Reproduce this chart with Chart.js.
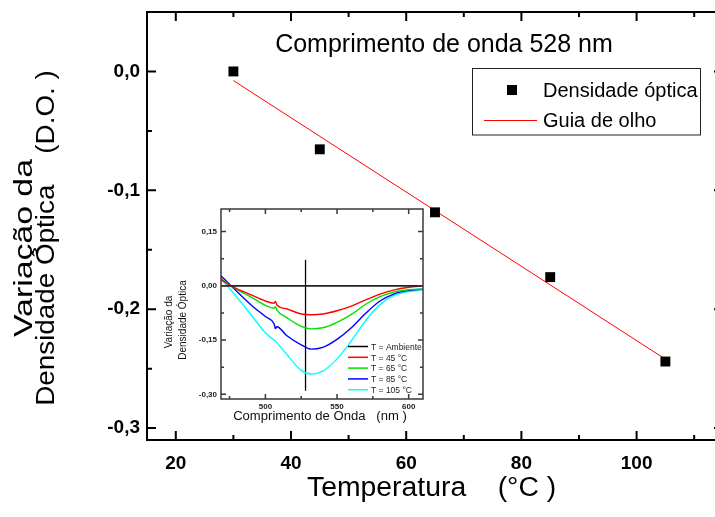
<!DOCTYPE html>
<html>
<head>
<meta charset="utf-8">
<script src="https://cdn.jsdelivr.net/npm/chart.js@4.4.0/dist/chart.umd.min.js"></script>
<style>
html, body { margin: 0; padding: 0; background: #fff; width: 715px; height: 517px; overflow: hidden; }
#wrap { position: relative; width: 715px; height: 517px; overflow: hidden; }
#mainChart { position: absolute; left: 0; top: 0; }
#insetChart { position: absolute; left: 150px; top: 200px; }
</style>
</head>
<body>
<div id="wrap">
<canvas id="mainChart" width="730" height="517"></canvas>
<canvas id="insetChart" width="285" height="235"></canvas>
</div>
<script>
const FONT = '"Liberation Sans", Arial, Helvetica, sans-serif';

// variacao da densidade optica a 528 nm em funcao da temperatura
const temperatures = [30, 45, 65, 85, 105];
const opticalDensity = [0.0, -0.0655, -0.1185, -0.173, -0.244];
const guideTemps = [30, 105];
const guideDensity = [-0.0077, -0.242];
const tempTicks = [20, 40, 60, 80, 100];
const tempMinor = [30, 50, 70, 90, 110];
const densityTicks = [0, -0.1, -0.2, -0.3];
const densityMinor = [-0.05, -0.15, -0.25];

// espectros do detalhe
const wavelengths = [469, 476, 490, 500, 506, 507, 508, 515, 525, 532, 540, 550, 560, 570, 580, 590, 600, 610];
const spec45 = [0.017, 0.0, -0.025, -0.042, -0.048, -0.043, -0.053, -0.064, -0.078, -0.080, -0.078, -0.069, -0.056, -0.039, -0.023, -0.011, -0.004, 0.0];
const spec65 = [0.021, 0.0, -0.031, -0.054, -0.062, -0.058, -0.067, -0.088, -0.112, -0.119, -0.116, -0.101, -0.079, -0.051, -0.030, -0.017, -0.011, -0.009];
const spec85 = [0.028, 0.0, -0.053, -0.085, -0.105, -0.118, -0.113, -0.138, -0.163, -0.175, -0.170, -0.148, -0.116, -0.076, -0.042, -0.022, -0.013, -0.009];
const spec105 = [0.018, -0.012, -0.080, -0.130, -0.150, -0.152, -0.157, -0.190, -0.234, -0.244, -0.236, -0.202, -0.152, -0.096, -0.052, -0.026, -0.016, -0.011];
const ambientWaves = [469, 610];
const ambientValues = [0, 0];
const markerWave = 528;
const markerRange = [-0.29, 0.072];
const insetSeriesNames = ['T = Ambiente', 'T = 45 °C', 'T = 65 °C', 'T = 85 °C', 'T = 105 °C'];
const insetColors = ['#000000', '#ff0000', '#00e000', '#0000ff', '#00ffff'];
const waveTicks = [500, 550, 600];
const waveMinor = [475, 525, 575];
const insetTicks = [0.15, 0, -0.15, -0.3];
const insetMinor = [0.075, -0.075, -0.225];

function pairs(xs, ys) {
    return xs.map((x, i) => ({ x: x, y: ys[i] }));
}

function comma(v, digits) {
    return (v < -1e-9 ? '-' : '') + Math.abs(v).toFixed(digits).replace('.', ',');
}

// sem folga automatica: a area do grafico fica exatamente onde o layout manda
function noPadding(s) {
    s.paddingTop = 0; s.paddingBottom = 0; s.paddingLeft = 0; s.paddingRight = 0;
}

function drawText(ctx, text, x, y, o) {
    ctx.save();
    ctx.translate(x, y);
    if (o.rotate) ctx.rotate(o.rotate);
    if (o.sx) ctx.scale(o.sx, 1);
    ctx.font = (o.weight || '') + ' ' + o.size + 'px ' + FONT;
    ctx.fillStyle = o.color || '#000';
    ctx.textAlign = o.align || 'center';
    ctx.textBaseline = o.baseline || 'alphabetic';
    ctx.fillText(text, 0, 0);
    ctx.restore();
}

function innerTicks(chart, axis, majors, minors, bigLen, smallLen) {
    const ctx = chart.ctx, a = chart.chartArea, s = chart.scales[axis];
    ctx.beginPath();
    const mark = (v, len) => {
        const p = s.getPixelForValue(v);
        if (axis === 'x') {
            ctx.moveTo(p, a.bottom); ctx.lineTo(p, a.bottom - len);
            ctx.moveTo(p, a.top); ctx.lineTo(p, a.top + len);
        } else {
            ctx.moveTo(a.left, p); ctx.lineTo(a.left + len, p);
            ctx.moveTo(a.right, p); ctx.lineTo(a.right - len, p);
        }
    };
    majors.forEach(v => mark(v, bigLen));
    minors.forEach(v => mark(v, smallLen));
    ctx.stroke();
}

const mainDecor = {
    id: 'mainDecor',
    afterDraw(chart) {
        const ctx = chart.ctx, a = chart.chartArea;
        ctx.save();
        ctx.strokeStyle = '#000';
        ctx.lineWidth = 2;
        ctx.strokeRect(a.left, a.top, a.right - a.left, a.bottom - a.top);
        innerTicks(chart, 'x', tempTicks, tempMinor, 9, 5);
        innerTicks(chart, 'y', densityTicks, densityMinor, 9, 5);

        drawText(ctx, 'Comprimento de onda 528 nm', 444, 52, { size: 25 });

        // legenda
        ctx.lineWidth = 1;
        ctx.strokeStyle = '#222';
        ctx.strokeRect(472.5, 68.5, 228, 66.5);
        ctx.fillStyle = '#000';
        ctx.fillRect(507, 85, 10, 10);
        ctx.strokeStyle = '#ff0000';
        ctx.beginPath();
        ctx.moveTo(484, 120.5);
        ctx.lineTo(537, 120.5);
        ctx.stroke();
        drawText(ctx, 'Densidade óptica', 543, 97, { size: 20, align: 'left' });
        drawText(ctx, 'Guia de olho', 543, 127, { size: 20, align: 'left' });

        // titulos dos eixos
        drawText(ctx, 'Temperatura    (°C )', 307, 496, { size: 27, align: 'left', sx: 1.05 });
        drawText(ctx, 'Variação da', 32, 248, { size: 26, rotate: -Math.PI / 2, sx: 1.3 });
        drawText(ctx, 'Densidade Óptica    (D.O. )', 54, 238, { size: 26, rotate: -Math.PI / 2, sx: 1.07 });
        ctx.restore();
    }
};

new Chart(document.getElementById('mainChart'), {
    type: 'scatter',
    data: {
        datasets: [{
            label: 'Densidade óptica',
            data: pairs(temperatures, opticalDensity),
            pointStyle: 'rect',
            pointRadius: 7,
            backgroundColor: '#000',
            borderColor: '#000',
            borderWidth: 0,
            showLine: false
        }, {
            label: 'Guia de olho',
            data: pairs(guideTemps, guideDensity),
            showLine: true,
            borderColor: '#ff0000',
            borderWidth: 1,
            pointRadius: 0
        }]
    },
    options: {
        responsive: false,
        animation: false,
        layout: { padding: { top: 12, right: 6, left: 0, bottom: 0 } },
        plugins: { legend: { display: false }, tooltip: { enabled: false } },
        scales: {
            x: {
                type: 'linear',
                min: 15,
                max: 115,
                afterBuildTicks: s => { s.ticks = tempTicks.map(v => ({ value: v })); },
                afterFit: s => { s.height = 77; noPadding(s); },
                grid: { display: false, drawTicks: false },
                border: { display: false },
                ticks: { color: '#000', padding: 12, font: { family: FONT, size: 19, weight: 'bold' } }
            },
            y: {
                type: 'linear',
                min: -0.31,
                max: 0.05,
                afterBuildTicks: s => { s.ticks = densityTicks.map(v => ({ value: v })); },
                afterFit: s => { s.width = 147; noPadding(s); },
                grid: { display: false, drawTicks: false },
                border: { display: false },
                ticks: { color: '#000', padding: 7, callback: v => comma(v, 1), font: { family: FONT, size: 19, weight: 'bold' } }
            }
        }
    },
    plugins: [mainDecor]
});

const insetDecor = {
    id: 'insetDecor',
    afterDraw(chart) {
        const ctx = chart.ctx, a = chart.chartArea;
        ctx.save();
        ctx.strokeStyle = '#3a3a3a';
        ctx.lineWidth = 1.5;
        ctx.strokeRect(a.left, a.top, a.right - a.left, a.bottom - a.top);
        innerTicks(chart, 'x', waveTicks, waveMinor, 5, 3);
        innerTicks(chart, 'y', insetTicks, insetMinor, 5, 3);

        // legenda do detalhe
        insetSeriesNames.forEach((name, i) => {
            const y = 146.5 + i * 10.8;
            ctx.strokeStyle = insetColors[i];
            ctx.lineWidth = 1.5;
            ctx.beginPath();
            ctx.moveTo(198, y);
            ctx.lineTo(218, y);
            ctx.stroke();
            drawText(ctx, name, 221, y + 3.2, { size: 8.5, align: 'left', color: '#222' });
        });

        drawText(ctx, 'Comprimento de Onda   (nm )', 170, 220, { size: 12, sx: 1.09, color: '#111' });
        drawText(ctx, 'Variação da', 22, 122, { size: 10, rotate: -Math.PI / 2, color: '#111' });
        drawText(ctx, 'Densidade Óptica', 36, 120, { size: 10, rotate: -Math.PI / 2, color: '#111' });
        ctx.restore();
    }
};

const spectra = [spec45, spec65, spec85, spec105];

new Chart(document.getElementById('insetChart'), {
    type: 'scatter',
    data: {
        datasets: [{
            label: insetSeriesNames[0],
            data: pairs(ambientWaves, ambientValues),
            showLine: true,
            borderColor: '#222',
            borderWidth: 1.8,
            pointRadius: 0
        }].concat(spectra.map((s, i) => ({
            label: insetSeriesNames[i + 1],
            data: pairs(wavelengths, s),
            showLine: true,
            borderColor: insetColors[i + 1],
            borderWidth: 1.4,
            pointRadius: 0,
            cubicInterpolationMode: 'monotone'
        }))).concat([{
            label: '528 nm',
            data: pairs([markerWave, markerWave], markerRange),
            showLine: true,
            borderColor: '#000',
            borderWidth: 1.3,
            pointRadius: 0
        }])
    },
    options: {
        responsive: false,
        animation: false,
        layout: { padding: { top: 9, right: 12, left: 0, bottom: 0 } },
        plugins: { legend: { display: false }, tooltip: { enabled: false } },
        scales: {
            x: {
                type: 'linear',
                min: 469,
                max: 610,
                afterBuildTicks: s => { s.ticks = waveTicks.map(v => ({ value: v })); },
                afterFit: s => { s.height = 36; noPadding(s); },
                grid: { display: false, drawTicks: false },
                border: { display: false },
                ticks: { color: '#222', padding: 3, font: { family: FONT, size: 8, weight: 'bold' } }
            },
            y: {
                type: 'linear',
                min: -0.313,
                max: 0.2125,
                afterBuildTicks: s => { s.ticks = insetTicks.map(v => ({ value: v })); },
                afterFit: s => { s.width = 71; noPadding(s); },
                grid: { display: false, drawTicks: false },
                border: { display: false },
                ticks: { color: '#222', padding: 4, callback: v => comma(v, 2), font: { family: FONT, size: 8, weight: 'bold' } }
            }
        }
    },
    plugins: [insetDecor]
});
</script>
</body>
</html>
